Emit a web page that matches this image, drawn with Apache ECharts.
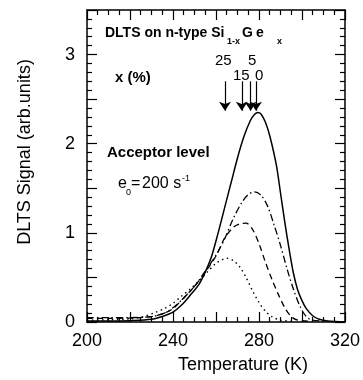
<!DOCTYPE html>
<html>
<head>
<meta charset="utf-8">
<script src="https://cdn.jsdelivr.net/npm/echarts@6/dist/echarts.min.js"></script>
<style>
  html, body { margin: 0; padding: 0; background: #fff; }
  #chart { width: 363px; height: 380px; }
</style>
</head>
<body>
<div id="chart"></div>
<script>
// x = 0 %  (solid)
var tempsX0 = [200, 210, 220, 230, 236, 240, 244, 248, 252, 255, 258, 261, 264, 267, 270, 273, 276, 278, 279.5, 281, 283, 285, 288, 290, 292, 294, 296, 298, 300, 302, 305, 308, 312, 320]
var signalX0 = [0.01, 0.01, 0.015, 0.03, 0.07, 0.11, 0.19, 0.30, 0.42, 0.56, 0.74, 1.0, 1.28, 1.56, 1.84, 2.08, 2.26, 2.33, 2.35, 2.33, 2.24, 2.09, 1.77, 1.45, 1.12, 0.82, 0.55, 0.36, 0.24, 0.15, 0.07, 0.03, 0.01, 0.0]
// x = 5 %  (dash-dot)
var tempsX5 = [200, 210, 220, 230, 236, 240, 245, 250, 255, 260, 264, 268, 272, 275, 278, 281, 284, 287, 290, 293, 296, 299, 302, 305, 310]
var signalX5 = [0.05, 0.05, 0.05, 0.06, 0.10, 0.16, 0.27, 0.40, 0.57, 0.75, 0.93, 1.16, 1.34, 1.43, 1.46, 1.42, 1.30, 1.09, 0.86, 0.60, 0.37, 0.18, 0.06, 0.02, 0.01]
// x = 15 %  (dashed)
var tempsX15 = [200, 210, 220, 230, 236, 240, 245, 250, 255, 260, 264, 268, 271, 274, 277, 280, 283, 286, 289, 292, 295, 298, 305]
var signalX15 = [0.04, 0.04, 0.045, 0.06, 0.10, 0.15, 0.27, 0.40, 0.56, 0.74, 0.94, 1.06, 1.10, 1.11, 1.04, 0.88, 0.67, 0.48, 0.31, 0.16, 0.06, 0.02, 0.01]
// x = 25 %  (dotted)
var tempsX25 = [200, 210, 220, 226, 232, 236, 240, 244, 248, 252, 256, 260, 263, 265, 268, 271, 274, 277, 280, 283, 286, 290, 295]
var signalX25 = [0.02, 0.025, 0.035, 0.06, 0.11, 0.15, 0.21, 0.29, 0.37, 0.46, 0.56, 0.66, 0.70, 0.715, 0.69, 0.62, 0.50, 0.35, 0.22, 0.12, 0.06, 0.02, 0.01]

// peak position arrows (temperature) and their labels
var arrowTemps = [264.2, 272.0, 276.1, 278.6]
var arrowLabels = ['25', '15', '5', '0']
var arrowTop = 2.7
var arrowTip = 2.37

var xTicks = [200, 240, 280, 320]
var yTicks = [0, 1, 2, 3]

function pairs(xs, ys) {
  return xs.map(function (x, i) { return [x, ys[i]] })
}

var FONT = '"Liberation Sans", Arial, Helvetica, sans-serif'

var chart = echarts.init(document.getElementById('chart'))

var axisBase = {
  axisLine: { show: true, onZero: false, lineStyle: { color: '#000', width: 1.5 } },
  axisTick: { show: true, inside: true, length: 10, lineStyle: { color: '#000', width: 1.2 } },
  minorTick: { show: true, length: 5, lineStyle: { color: '#000', width: 1.2 } },
  splitLine: { show: false },
}

var option = {
  animation: false,
  grid: { left: 87, right: 18, top: 10, bottom: 58 },
  xAxis: [
    Object.assign({}, axisBase, {
      type: 'value', min: 200, max: 320, interval: 20, position: 'bottom',
      minorTick: Object.assign({}, axisBase.minorTick, { splitNumber: 4 }),
      axisLabel: {
        color: '#000', fontSize: 18, fontFamily: FONT, margin: 10,
        formatter: function (v) { return xTicks.indexOf(v) >= 0 ? String(v) : '' },
      },
      name: 'Temperature (K)', nameLocation: 'middle', nameGap: 34,
      nameTextStyle: { color: '#000', fontSize: 18, fontFamily: FONT, padding: [0, 0, 0, 54] },
    }),
    Object.assign({}, axisBase, {
      type: 'value', min: 200, max: 320, interval: 20, position: 'top',
      minorTick: Object.assign({}, axisBase.minorTick, { splitNumber: 4 }),
      axisLabel: { show: false },
    }),
  ],
  yAxis: [
    Object.assign({}, axisBase, {
      type: 'value', min: 0, max: 3.5, interval: 0.5, position: 'left',
      minorTick: Object.assign({}, axisBase.minorTick, { splitNumber: 5 }),
      axisLabel: {
        color: '#000', fontSize: 18, fontFamily: FONT, margin: 12,
        formatter: function (v) { return yTicks.indexOf(v) >= 0 ? String(v) : '' },
      },
      name: 'DLTS Signal (arb.units)', nameLocation: 'middle', nameGap: 53, nameRotate: 90,
      nameTextStyle: { color: '#000', fontSize: 18, fontFamily: FONT, padding: [0, 0, 0, 28] },
    }),
    Object.assign({}, axisBase, {
      type: 'value', min: 0, max: 3.5, interval: 0.5, position: 'right',
      minorTick: Object.assign({}, axisBase.minorTick, { splitNumber: 5 }),
      axisLabel: { show: false },
    }),
  ],
  series: [
    {
      name: '0', type: 'line', smooth: 0.3, symbol: 'none',
      lineStyle: { color: '#000', width: 1.5 },
      data: pairs(tempsX0, signalX0),
      markLine: {
        silent: true, symbol: ['none', 'arrow'], symbolSize: 9,
        label: { show: false },
        lineStyle: { color: '#000', width: 1.2, type: 'solid' },
        data: arrowTemps.map(function (t) {
          return [{ coord: [t, arrowTop] }, { coord: [t, arrowTip] }]
        }),
      },
    },
    {
      name: '5', type: 'line', smooth: 0.3, symbol: 'none',
      lineStyle: { color: '#000', width: 1.3, type: [7, 3, 1.5, 3] },
      data: pairs(tempsX5, signalX5),
    },
    {
      name: '15', type: 'line', smooth: 0.3, symbol: 'none',
      lineStyle: { color: '#000', width: 1.3, type: [6, 4] },
      data: pairs(tempsX15, signalX15),
    },
    {
      name: '25', type: 'line', smooth: 0.3, symbol: 'none',
      lineStyle: { color: '#000', width: 1.4, type: [1.5, 3.5] },
      data: pairs(tempsX25, signalX25),
    },
  ],
  graphic: [
    // title
    { type: 'text', left: 105, top: 26, style: { text: 'DLTS on n-type Si', font: 'bold 14px ' + FONT, fill: '#000' } },
    { type: 'text', left: 227, top: 37, style: { text: '1-x', font: 'bold 9px ' + FONT, fill: '#000' } },
    { type: 'text', left: 242, top: 26, style: { text: 'G', font: 'bold 14px ' + FONT, fill: '#000' } },
    { type: 'text', left: 256, top: 26, style: { text: 'e', font: 'bold 14px ' + FONT, fill: '#000' } },
    { type: 'text', left: 277, top: 37, style: { text: 'x', font: 'bold 9px ' + FONT, fill: '#000' } },
    { type: 'text', left: 115, top: 70, style: { text: 'x (%)', font: 'bold 15px ' + FONT, fill: '#000' } },
    // arrow labels
    { type: 'text', left: 215, top: 53, style: { text: arrowLabels[0], font: '15px ' + FONT, fill: '#000' } },
    { type: 'text', left: 233, top: 68, style: { text: arrowLabels[1], font: '15px ' + FONT, fill: '#000' } },
    { type: 'text', left: 248, top: 53, style: { text: arrowLabels[2], font: '15px ' + FONT, fill: '#000' } },
    { type: 'text', left: 255, top: 68, style: { text: arrowLabels[3], font: '15px ' + FONT, fill: '#000' } },
    // acceptor level
    { type: 'text', left: 107, top: 145, style: { text: 'Acceptor level', font: 'bold 15px ' + FONT, fill: '#000' } },
    { type: 'text', left: 118, top: 176, style: { text: 'e', font: '16px ' + FONT, fill: '#000' } },
    { type: 'text', left: 126, top: 188, style: { text: '0', font: '9px ' + FONT, fill: '#000' } },
    { type: 'text', left: 131, top: 176, style: { text: '=', font: '16px ' + FONT, fill: '#000' } },
    { type: 'text', left: 142, top: 176, style: { text: '200 s', font: '16px ' + FONT, fill: '#000' } },
    { type: 'text', left: 182, top: 174, style: { text: '-1', font: '9px ' + FONT, fill: '#000' } },
  ],
}

option && chart.setOption(option)
</script>
</body>
</html>
